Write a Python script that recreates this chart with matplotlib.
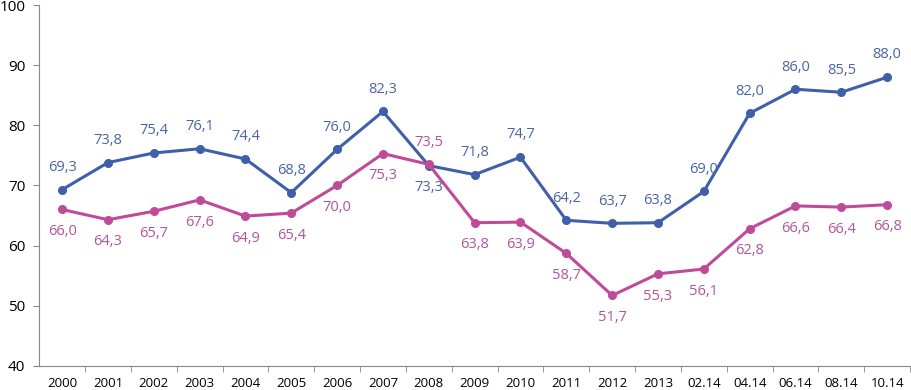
import matplotlib.pyplot as plt

# categories and values
categories = ['2000', '2001', '2002', '2003', '2004', '2005', '2006', '2007', '2008',
              '2009', '2010', '2011', '2012', '2013', '02.14', '04.14', '06.14',
              '08.14', '10.14']
blue_vals = [69.3, 73.8, 75.4, 76.1, 74.4, 68.8, 76.0, 82.3, 73.3, 71.8, 74.7,
             64.2, 63.7, 63.8, 69.0, 82.0, 86.0, 85.5, 88.0]
pink_vals = [66.0, 64.3, 65.7, 67.6, 64.9, 65.4, 70.0, 75.3, 73.5, 63.8, 63.9,
             58.7, 51.7, 55.3, 56.1, 62.8, 66.6, 66.4, 66.8]

blue = '#3F5FAA'
blue_txt = '#4A64A4'
pink = '#C04A9A'
pink_txt = '#B0559C'

plt.rcParams['font.family'] = ['Open Sans', 'DejaVu Sans']

fig = plt.figure(figsize=(9.11, 3.9), dpi=100)
ax = fig.add_axes([0.043, 0.062, 0.956, 0.925])

x = list(range(len(categories)))
ax.plot(x, blue_vals, color=blue, lw=2.2, marker='o', ms=5.5)
ax.plot(x, pink_vals, color=pink, lw=2.2, marker='o', ms=5.5)

# value labels: blue above, pink below, swapped at 2008
for i, (b, p) in enumerate(zip(blue_vals, pink_vals)):
    b_off = -16 if categories[i] == '2008' else 16
    p_off = 16 if categories[i] == '2008' else -16
    ax.annotate(f'{b:.1f}'.replace('.', ','), (i, b), textcoords='offset points',
                xytext=(0, b_off), ha='center', va='center', fontsize=10.5, color=blue_txt)
    ax.annotate(f'{p:.1f}'.replace('.', ','), (i, p), textcoords='offset points',
                xytext=(0, p_off), ha='center', va='center', fontsize=10.5, color=pink_txt)

ax.set_ylim(40, 100)
ax.set_xlim(-0.5, len(categories) - 0.5)
ax.set_yticks(range(40, 101, 10))
ax.set_xticks(x)
ax.set_xticklabels(categories, fontsize=9.5)
ax.tick_params(axis='x', length=0, pad=8)
ax.tick_params(axis='y', labelsize=11, length=4, color='#888888', pad=6)
# tick marks between categories
ax.set_xticks([i + 0.5 for i in range(len(categories))], minor=True)
ax.tick_params(axis='x', which='minor', length=4, color='#888888')

for s in ['top', 'right']:
    ax.spines[s].set_visible(False)
for s in ['left', 'bottom']:
    ax.spines[s].set_color('#888888')

fig.savefig('out.png', dpi=100)
